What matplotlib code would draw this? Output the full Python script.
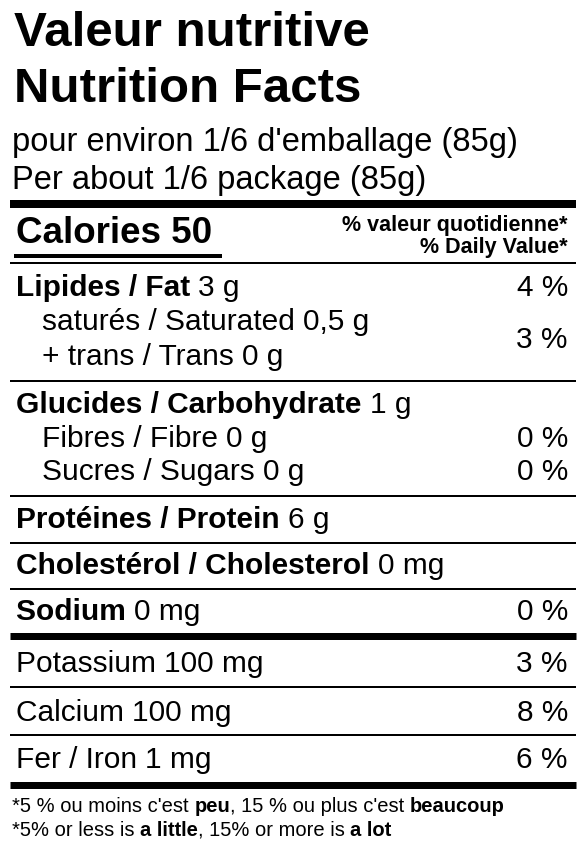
import matplotlib
matplotlib.use("Agg")
import matplotlib.pyplot as plt

plt.rcParams['font.family'] = ['Liberation Sans', 'DejaVu Sans']

title_fr = "Valeur nutritive"
title_en = "Nutrition Facts"
serving = ["pour environ 1/6 d'emballage (85g)", "Per about 1/6 package (85g)"]
calories = 50
dv_header = ["% valeur quotidienne*", "% Daily Value*"]
rows_label = ["Lipides / Fat", "saturés / Saturated", "+ trans / Trans",
              "Glucides / Carbohydrate", "Fibres / Fibre", "Sucres / Sugars",
              "Protéines / Protein", "Cholestérol / Cholesterol", "Sodium",
              "Potassium", "Calcium", "Fer / Iron"]
rows_value = ["3 g", "0,5 g", "0 g", "1 g", "0 g", "0 g", "6 g", "0 mg", "0 mg",
              "100 mg", "100 mg", "1 mg"]
rows_pct = ["4 %", None, None, None, "0 %", "0 %", None, None, "0 %", "3 %", "8 %", "6 %"]
rows_bold = [True, False, False, True, False, False, True, True, True, False, False, False]
rows_indent = [False, True, True, False, True, True, False, False, False, False, False, False]
sat_trans_pct = "3 %"
foot1 = [("*5 % ou moins c'est ", False), ("peu", True), (", 15 % ou plus c'est ", False), ("beaucoup", True)]
foot2 = [("*5% or less is ", False), ("a little", True), (", 15% or more is ", False), ("a lot", True)]

W, H = 585, 855
fig = plt.figure(figsize=(W/100, H/100), dpi=100)
ax = fig.add_axes([0, 0, 1, 1])
ax.set_xlim(0, W); ax.set_ylim(H, 0); ax.axis('off')
fig.canvas.draw()
r = fig.canvas.get_renderer()

def hline(y, lw, x0=10, x1=576):
    ax.plot([x0, x1], [y, y], color='black', lw=lw*0.72, solid_capstyle='butt')

def runs(x, y, parts, size):
    for s, b in parts:
        t = ax.text(x, y, s, fontsize=size, fontweight='bold' if b else 'normal', va='center', ha='left')
        bb = t.get_window_extent(renderer=r)
        x += bb.width
    return x

ax.text(14, 33, title_fr, fontsize=35.5, fontweight='bold', va='center')
ax.text(14, 89, title_en, fontsize=35.5, fontweight='bold', va='center')
ax.text(12, 143, serving[0], fontsize=23.5, va='center')
ax.text(12, 181, serving[1], fontsize=23.5, va='center')
hline(204, 8)
ax.text(16, 233, f"Calories {calories}", fontsize=26.5, fontweight='bold', va='center')
hline(256, 4, 14, 222)
ax.text(568, 225, dv_header[0], fontsize=15.5, fontweight='bold', va='center', ha='right')
ax.text(568, 247, dv_header[1], fontsize=15.5, fontweight='bold', va='center', ha='right')
hline(263, 2)

ys = [288, 322, 357, 405, 439, 472, 520, 566, 612, 664, 713, 760]
for lab, val, pct, b, ind, y in zip(rows_label, rows_value, rows_pct, rows_bold, rows_indent, ys):
    x = 42 if ind else 16
    runs(x, y, [(lab + " ", b), (val, False)], 21.5)
    if pct:
        ax.text(568, y, pct, fontsize=21.5, va='center', ha='right')
ax.text(568, 340, sat_trans_pct, fontsize=21.5, va='center', ha='right')

hline(381, 2); hline(496, 2); hline(543, 2); hline(589, 2)
hline(636, 7); hline(687, 2); hline(735, 2); hline(785, 7)
runs(12, 806, foot1, 14.5)
runs(12, 830, foot2, 14.5)

fig.savefig("out.png", dpi=100, facecolor='white')
